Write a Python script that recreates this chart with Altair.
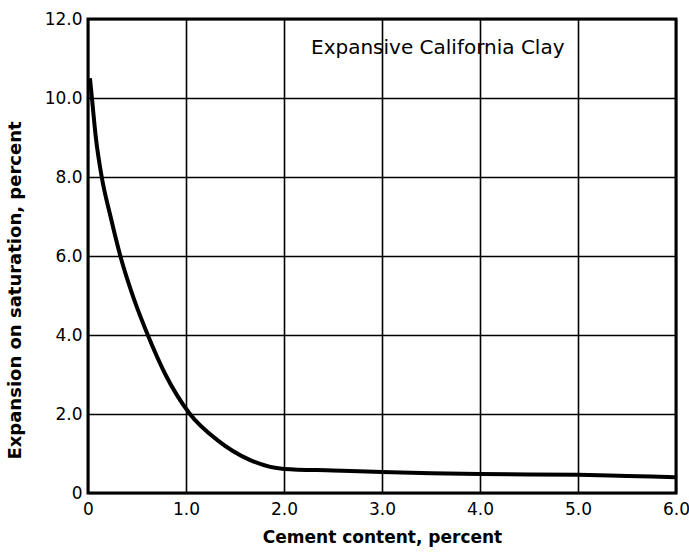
import altair as alt
import pandas as pd

# Expansion of a California clay on saturation vs. cement content
cement_pct = [0.02, 0.04, 0.08, 0.14, 0.23, 0.33, 0.47, 0.61, 0.79, 1.04,
              1.32, 1.65, 2.00, 2.50, 3.00, 3.50, 4.00, 4.50, 5.00, 5.50,
              6.00]
expansion_pct = [10.5, 10.0, 9.0, 8.0, 7.0, 6.0, 4.9, 4.0, 3.0, 2.0,
                 1.34, 0.84, 0.61, 0.57, 0.53, 0.50, 0.48, 0.47, 0.46, 0.43,
                 0.40]

x_ticks = [0, 1, 2, 3, 4, 5, 6]
y_ticks = [0, 2, 4, 6, 8, 10, 12]
annotation = "Expansive California Clay"

df = pd.DataFrame({"cement": cement_pct, "expansion": expansion_pct})

FONT = "DejaVu Sans"
label_expr = "datum.value == 0 ? '0' : format(datum.value, '.1f')"

x_enc = alt.X(
    "cement:Q",
    scale=alt.Scale(domain=[0, 6], nice=False, zero=True),
    axis=alt.Axis(
        values=x_ticks, labelExpr=label_expr, title="Cement content, percent",
        grid=True, gridColor="black", gridWidth=1.6, gridOpacity=1,
        ticks=False, domain=False, labelPadding=8, labelFlush=False,
        labelFont=FONT, labelFontSize=17, labelColor="black",
        titleFont=FONT, titleFontSize=17, titleFontWeight="bold",
        titleColor="black", titlePadding=12,
    ),
)
y_enc = alt.Y(
    "expansion:Q",
    scale=alt.Scale(domain=[0, 12], nice=False),
    axis=alt.Axis(
        values=y_ticks, labelExpr=label_expr,
        title="Expansion on saturation, percent",
        grid=True, gridColor="black", gridWidth=1.6, gridOpacity=1,
        ticks=False, domain=False, labelPadding=6, labelFlush=False,
        labelFont=FONT, labelFontSize=17, labelColor="black",
        titleFont=FONT, titleFontSize=18, titleFontWeight="bold",
        titleColor="black", titleX=-73, titleY=271,
        titleBaseline="middle", titleAngle=270,
    ),
)

curve = alt.Chart(df).mark_line(
    color="black", strokeWidth=4, interpolate="monotone"
).encode(x=x_enc, y=y_enc)

label = alt.Chart(pd.DataFrame({"t": [annotation]})).mark_text(
    font=FONT, fontSize=20, color="black", align="left", baseline="middle"
).encode(x=alt.value(223), y=alt.value(29), text="t:N")

chart = (
    alt.layer(curve, label)
    .properties(
        width=588, height=474,
        autosize=alt.AutoSizeParams(type="none"),
        padding={"left": 88, "top": 19, "right": 13, "bottom": 59},
        background="white",
    )
    .configure_view(stroke="black", strokeWidth=3)
)

chart.save("out.html", embed_options={"renderer": "svg", "actions": False})
